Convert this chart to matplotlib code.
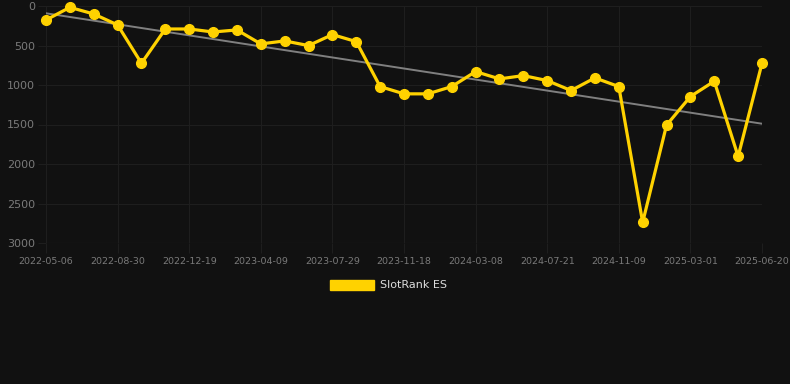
import matplotlib

matplotlib.use("Agg")
import matplotlib.pyplot as plt
import numpy as np
from matplotlib.patches import Patch

# rank per snapshot (lower is better), one point per snapshot
ranks = [177, 17, 101, 240, 725, 291, 291, 329, 303, 480,
         442, 501, 362, 451, 1020, 1112, 1112, 1020, 830, 923,
         881, 944, 1070, 910, 1020, 2739, 1508, 1146, 952, 1904,
         725]
tick_idx = [0, 3, 6, 9, 12, 15, 18, 21, 24, 27, 30]
tick_labels = ["2022-05-06", "2022-08-30", "2022-12-19", "2023-04-09",
               "2023-07-29", "2023-11-18", "2024-03-08", "2024-07-21",
               "2024-11-09", "2025-03-01", "2025-06-20"]
y_ticks = [0, 500, 1000, 1500, 2000, 2500, 3000]

BG = "#111111"
GOLD = "#FFD200"
GRID = "#1e1e1e"

x = np.arange(len(ranks))
slope, icpt = np.polyfit(x, ranks, 1)

fig = plt.figure(figsize=(7.9, 3.84), dpi=100, facecolor=BG)
ax = fig.add_axes([46 / 790, 1 - 243 / 384, 716 / 790, 237 / 384])
ax.set_facecolor(BG)

ax.plot(x, slope * x + icpt, color="#808080", lw=1.4, zorder=2)
ax.plot(x, ranks, color=GOLD, lw=2.3, marker="o", ms=7, zorder=3, clip_on=False)

ax.set_xlim(0, len(ranks) - 1)
ax.set_ylim(3000, 0)
ax.set_xticks(tick_idx)
ax.set_xticklabels(tick_labels)
ax.set_yticks(y_ticks)
ax.grid(color=GRID, lw=0.8)
ax.axhline(3000, color="#2a2a2a", lw=0.8)
ax.tick_params(axis="x", colors=GRID, labelcolor="#7a7a7a", labelsize=6.8, length=7, pad=3)
ax.tick_params(axis="y", colors=GRID, labelcolor="#7a7a7a", labelsize=8, length=6, pad=2)
for s in ax.spines.values():
    s.set_visible(False)

fig.legend(handles=[Patch(color=GOLD, label="SlotRank ES")], loc="center",
           bbox_to_anchor=(388 / 790, 1 - 285 / 384), frameon=False,
           handlelength=4, handleheight=1.0, handletextpad=0.5,
           fontsize=8, labelcolor="#dddddd")

fig.savefig("out.png", dpi=100, facecolor=BG)
